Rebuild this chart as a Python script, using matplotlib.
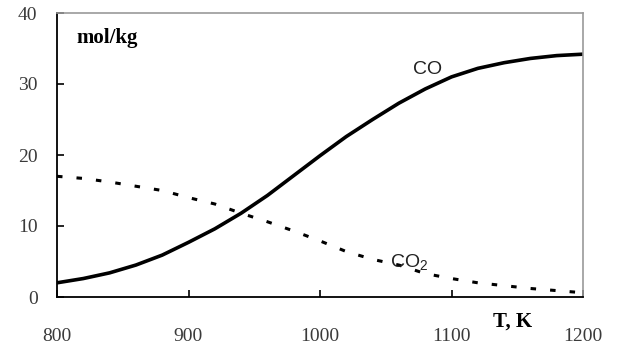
import matplotlib
matplotlib.use("Agg")
import matplotlib.pyplot as plt

T = [800, 820, 840, 860, 880, 900, 920, 940, 960, 980, 1000, 1020, 1040,
     1060, 1080, 1100, 1120, 1140, 1160, 1180, 1200]
co = [2.0, 2.6, 3.4, 4.5, 5.9, 7.7, 9.6, 11.8, 14.3, 17.1, 19.9, 22.6, 25.0,
      27.3, 29.3, 31.0, 32.2, 33.0, 33.6, 34.0, 34.2]
co2 = [17.0, 16.7, 16.2, 15.6, 15.0, 14.0, 13.1, 11.8, 10.6, 9.3, 7.9, 6.4, 5.3,
       4.5, 3.3, 2.6, 2.0, 1.6, 1.2, 0.9, 0.6]
xticks = [800, 900, 1000, 1100, 1200]
yticks = [0, 10, 20, 30, 40]

fig = plt.figure(figsize=(6.19, 3.49), dpi=100)
ax = fig.add_axes([57/619, 1-297/349, (583-57)/619, (297-13)/349])

ax.plot(T, co, color='black', lw=2.6, solid_capstyle='butt')
ax.plot(T, co2, color='black', lw=2.2, linestyle=(0, (1.8, 4.6)), dash_capstyle='butt')

ax.set_xlim(800, 1200)
ax.set_ylim(0, 40)
ax.set_xticks(xticks)
ax.set_yticks(yticks)
serif = 'Liberation Serif'
ax.set_xticklabels([str(v) for v in xticks], family=serif, fontsize=14, color='#3a3a3a')
ax.set_yticklabels([str(v) for v in yticks], family=serif, fontsize=14, color='#3a3a3a')
ax.tick_params(axis='x', direction='in', length=5, width=1.2, pad=22)
ax.tick_params(axis='y', direction='in', length=5, width=1.2, pad=14)
for s in ['left', 'bottom']:
    ax.spines[s].set_linewidth(1.3)
    ax.spines[s].set_color('black')
for s in ['top', 'right']:
    ax.spines[s].set_linewidth(1.2)
    ax.spines[s].set_color('#9a9a9a')

fig.text(76/619, 1-38/349, 'mol/kg', family=serif, fontweight='bold', fontsize=15,
         ha='left', va='center')
fig.text(513/619, 1-322/349, 'T, K', family=serif, fontweight='bold', fontsize=15,
         ha='center', va='center')
plt.rcParams['mathtext.default'] = 'regular'
fig.text(428/619, 1-70/349, 'CO', family='Liberation Sans', fontsize=14,
         ha='center', va='center', color='#222222')
fig.text(390/619, 1-262/349, r'CO$_{2}$', family='Liberation Sans', fontsize=14,
         ha='left', va='center', color='#222222')

fig.savefig('out.png', dpi=100)
